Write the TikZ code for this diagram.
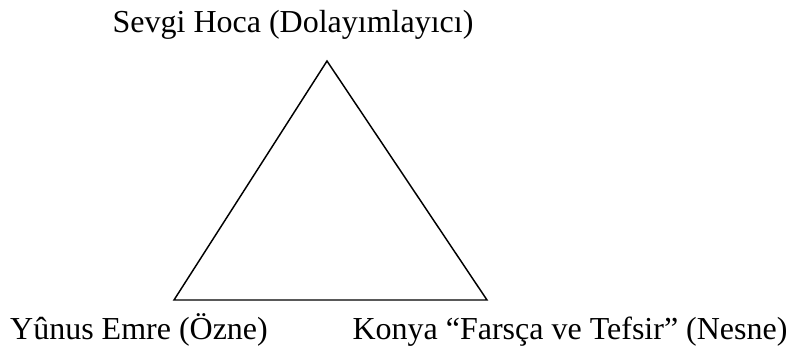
\documentclass[tikz,border=0pt]{standalone}
\usepackage{fontspec}
\setmainfont{Liberation Serif}
\usepackage{tikz}
\usetikzlibrary{positioning}
\tikzset{
    rolelabel/.style={anchor=base, inner sep=0pt, font=\fontsize{24}{29}\selectfont},
    side/.style={line width=1.1pt, line join=miter}
}

\begin{document}
\begin{tikzpicture}[x=0.75pt, y=-0.75pt]
            \useasboundingbox (0,0) rectangle (797,351);
            \coordinate (apex) at (327, 61);
            \coordinate (left) at (174, 300);
            \coordinate (right) at (487, 300);

            \node[rolelabel] (sevgi) at (293, 32) {Sevgi Hoca (Dolayımlayıcı)};
            \node[rolelabel] (yunus) at (139, 339) {Yûnus Emre (Özne)};
            \node[rolelabel] (konya) at (570, 339) {Konya “Farsça ve Tefsir” (Nesne)};

            \draw[side] (apex) -- (right) -- (left) -- cycle;
            \end{tikzpicture}
\end{document}
